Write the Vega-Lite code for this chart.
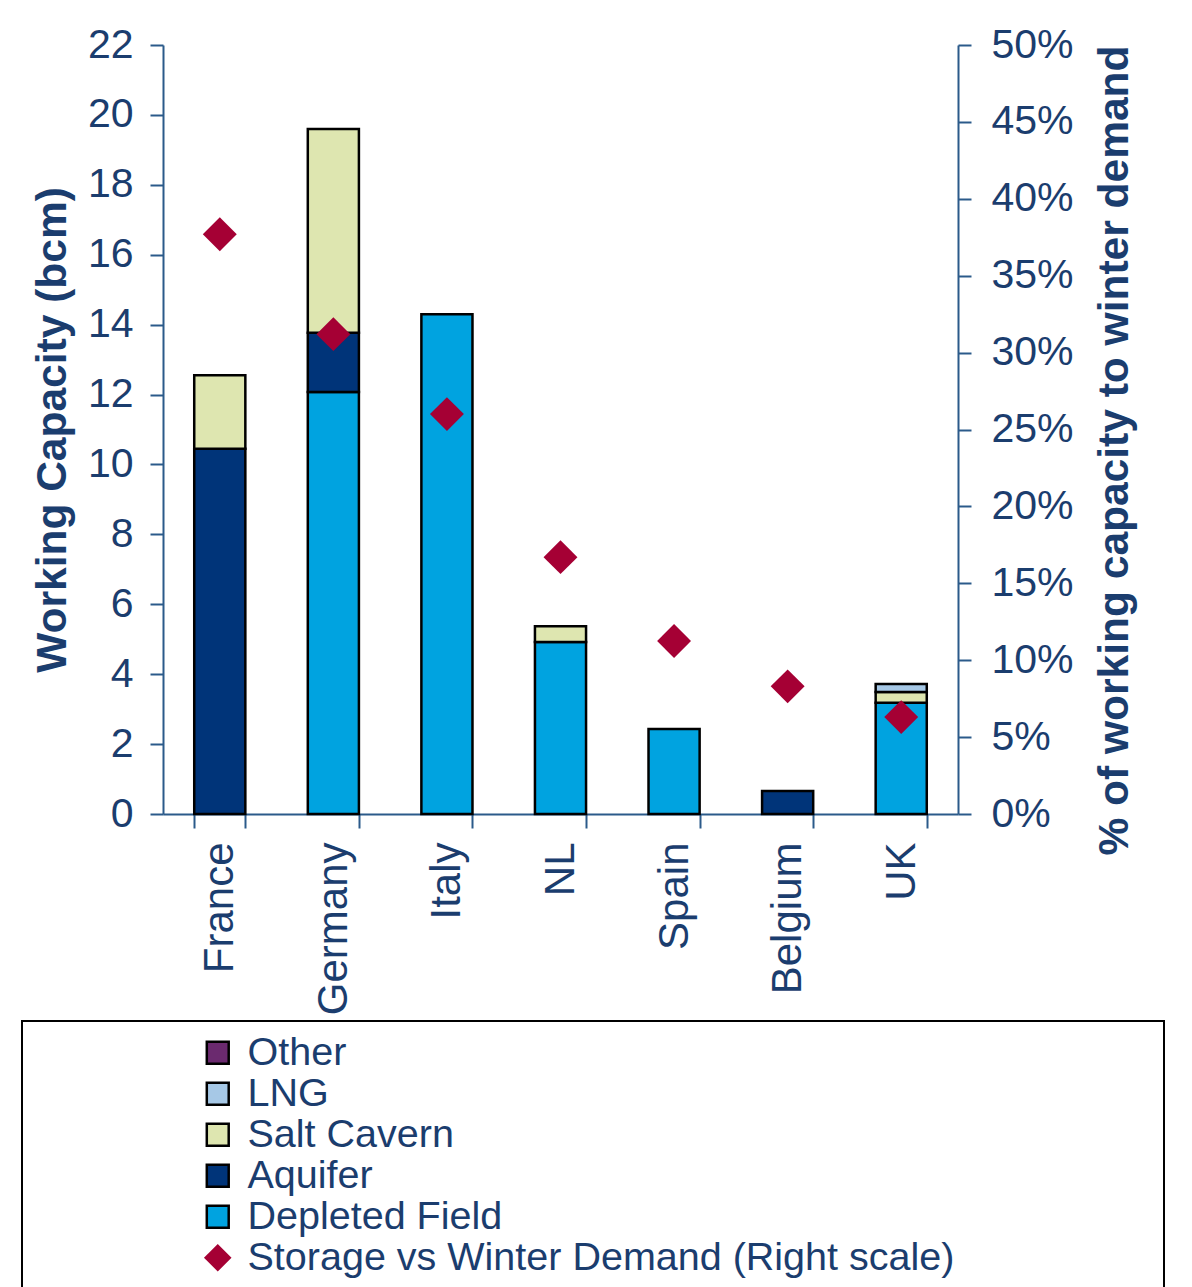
{
  "$schema": "https://vega.github.io/schema/vega-lite/v6.json",
  "autosize": "none",
  "width": 795,
  "height": 769,
  "padding": {"left": 163, "top": 45, "right": 234, "bottom": 473},
  "background": "white",
  "config": {
    "font": "Liberation Sans",
    "view": {"stroke": null},
    "axis": {"labelFont": "Liberation Sans", "titleFont": "Liberation Sans", "labelColor": "#1B3D6E", "titleColor": "#1B3D6E", "domainColor": "#2B5A8A", "tickColor": "#2B5A8A", "domainWidth": 2, "tickWidth": 2, "grid": false, "labelFontSize": 41, "titleFontSize": 42.5, "titleFontWeight": "bold"}
  },
  "datasets": {
    "bars": [
      {"country": "France", "type": "Aquifer", "value": 10.45},
      {"country": "France", "type": "Salt Cavern", "value": 2.1},
      {"country": "Germany", "type": "Depleted Field", "value": 12.07},
      {"country": "Germany", "type": "Aquifer", "value": 1.7},
      {"country": "Germany", "type": "Salt Cavern", "value": 5.83},
      {"country": "Italy", "type": "Depleted Field", "value": 14.3},
      {"country": "NL", "type": "Depleted Field", "value": 4.92},
      {"country": "NL", "type": "Salt Cavern", "value": 0.45},
      {"country": "Spain", "type": "Depleted Field", "value": 2.43},
      {"country": "Belgium", "type": "Aquifer", "value": 0.66},
      {"country": "UK", "type": "Depleted Field", "value": 3.18},
      {"country": "UK", "type": "Salt Cavern", "value": 0.31},
      {"country": "UK", "type": "LNG", "value": 0.23}
    ],
    "ratio": [
      {"country": "France", "ratio": 0.377},
      {"country": "Germany", "ratio": 0.312},
      {"country": "Italy", "ratio": 0.26},
      {"country": "NL", "ratio": 0.167},
      {"country": "Spain", "ratio": 0.1125},
      {"country": "Belgium", "ratio": 0.083},
      {"country": "UK", "ratio": 0.063}
    ]
  },
  "encoding": {
    "x": {
      "field": "country", "type": "nominal",
      "sort": ["France", "Germany", "Italy", "NL", "Spain", "Belgium", "UK"],
      "scale": {"paddingInner": 0.55, "paddingOuter": 0.275},
      "axis": {"title": null, "labelAngle": -90, "labelAlign": "right", "labelBaseline": "middle", "labelFontSize": 42, "tickBand": "extent", "tickSize": 14, "labelPadding": 14}
    }
  },
  "layer": [
    {
      "data": {"name": "bars"},
      "transform": [
        {"calculate": "indexof(['Other','LNG','Salt Cavern','Aquifer','Depleted Field'], datum.type)", "as": "ord"}
      ],
      "mark": {"type": "bar", "stroke": "black", "strokeWidth": 2.5},
      "encoding": {
        "y": {
          "field": "value", "type": "quantitative", "stack": "zero",
          "scale": {"domain": [0, 22], "nice": false},
          "axis": {"title": "Working Capacity (bcm)", "values": [0,2,4,6,8,10,12,14,16,18,20,22], "tickSize": 13, "labelPadding": 17, "titlePadding": 13}
        },
        "color": {
          "field": "type", "type": "nominal",
          "scale": {
            "domain": ["Other", "LNG", "Salt Cavern", "Aquifer", "Depleted Field", "Storage vs Winter Demand (Right scale)"],
            "range": ["#6B2A6F", "#A6C8E6", "#DEE6B0", "#003479", "#00A3E0", "#A50034"]
          },
          "legend": {
            "title": "\u00a0", "titleOrient": "right", "titlePadding": 198, "titleFontSize": 20,
            "orient": "none", "legendX": -141, "legendY": 976,
            "symbolType": "square", "symbolSize": 480, "symbolStrokeColor": "black", "symbolStrokeWidth": 2.5,
            "labelFontSize": 39.5, "labelColor": "#1B3D6E", "labelFont": "Liberation Sans", "labelLimit": 1000,
            "rowPadding": 0, "labelOffset": 10,
            "padding": 12, "symbolOffset": 164,
            "strokeColor": "black", "fillColor": "white",
            "encode": {
              "legend": {"update": {"strokeWidth": {"value": 2}}},
              "symbols": {
                "update": {
                  "shape": {"signal": "datum.value === 'Storage vs Winter Demand (Right scale)' ? 'diamond' : 'square'"},
                  "strokeWidth": {"signal": "datum.value === 'Storage vs Winter Demand (Right scale)' ? 0 : 2.5"},
                  "size": {"signal": "datum.value === 'Storage vs Winter Demand (Right scale)' ? 760 : 480"}
                }
              }
            }
          }
        },
        "order": {"field": "ord", "type": "quantitative", "sort": "descending"}
      }
    },
    {
      "data": {"name": "ratio"},
      "mark": {"type": "point", "shape": "diamond", "filled": true, "opacity": 1, "size": 1150},
      "encoding": {
        "y": {
          "field": "ratio", "type": "quantitative",
          "scale": {"domain": [0, 0.5], "nice": false},
          "axis": {"orient": "right", "title": "% of working capacity to winter demand", "format": ".0%", "values": [0,0.05,0.1,0.15,0.2,0.25,0.3,0.35,0.4,0.45,0.5], "tickSize": 13, "labelPadding": 20, "titleAngle": -90, "titleBaseline": "top", "titlePadding": 20, "titleY": 405}
        },
        "color": {"datum": "Storage vs Winter Demand (Right scale)"}
      }
    }
  ],
  "resolve": {"scale": {"y": "independent"}}
}
